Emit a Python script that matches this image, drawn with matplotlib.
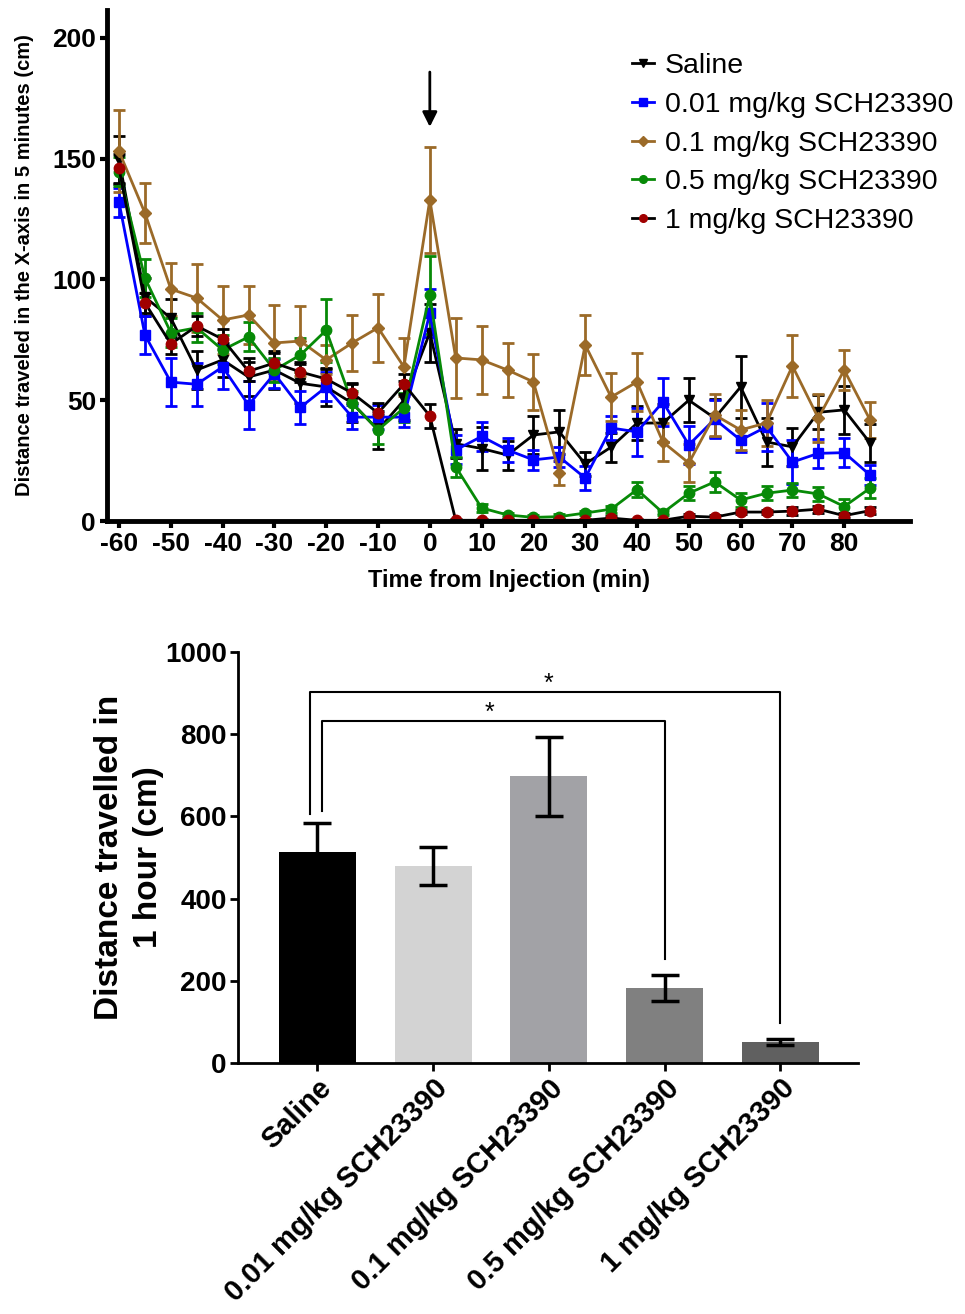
import numpy as np
import matplotlib
matplotlib.use("Agg")
import matplotlib.pyplot as plt
from matplotlib.lines import Line2D

plt.rcParams['font.family'] = ['Liberation Sans', 'DejaVu Sans']
plt.rcParams['axes.unicode_minus'] = False

# --- time course data (5-min bins) ---
time = list(range(-60, 90, 5))

saline = [149.5, 92.7, 84, 62.5, 66.7, 59.6, 62.5, 57, 55.5, 48.8, 37.7, 50, 78,
          32, 30, 27.3, 35.6, 36.9, 23.6, 30.6, 40.5, 40.6, 50, 42.6, 55.5, 32.7, 30.7, 45, 46, 32.3]
saline_err = [10, 8, 8, 8, 7, 8, 8, 8, 8, 8, 8, 8, 12,
              6, 9, 6, 8, 9, 5, 6, 7, 8, 9, 8, 13, 10, 8, 7, 10, 8]

d001 = [132, 77, 57.5, 56.6, 63.8, 48, 61, 47, 55.5, 43, 43, 43, 86,
        29.4, 35, 29.4, 25.3, 26.5, 17.8, 38.5, 36.9, 49.3, 31.5, 42.2, 33.5, 39, 24.4, 28, 28.3, 19]
d001_err = [6, 8, 10, 9, 9, 10, 6, 7, 6, 5, 5, 4, 10,
            6, 6, 5, 4, 4, 5, 5, 10, 10, 8, 8, 5, 10, 9, 6, 6, 4]

d01 = [153, 127.5, 96, 92.3, 83.2, 85.3, 73.7, 74.5, 66.7, 73.7, 80, 63.8, 133,
       67.5, 66.7, 62.5, 57.6, 19.9, 72.9, 51.3, 57.6, 32.7, 24, 43.9, 37.7, 40.6, 64.2, 42.6, 62.5, 41.8]
d01_err = [17, 12.5, 11, 14, 14, 12, 15.7, 14.5, 6, 11.6, 14, 12, 22,
           16.5, 14, 11, 11.5, 5, 12.4, 10, 12, 8, 8, 8.7, 8.3, 9.4, 13, 10, 8.3, 7.5]

d05 = [144.5, 100.6, 78, 80, 70.8, 76.2, 62.5, 68.7, 79, 48.8, 37.7, 46.8, 93.6,
       22.4, 5.4, 2.5, 1.5, 1.8, 3.3, 4.9, 13, 3.4, 11.5, 16.2, 8.7, 11.5, 12.8, 11.2, 6, 13.6]
d05_err = [6, 8, 6, 6, 6, 6, 5, 7, 13, 5, 6, 6, 16,
           4, 1.5, 1, 1, 1, 1, 1.5, 3, 1, 3, 4, 3, 3, 3, 3, 3, 4]

d1 = [146, 90.3, 73.3, 80.7, 75.3, 62, 65.4, 61.7, 58.8, 53, 44.7, 56.7, 43.5,
      0.3, 0.3, 0.3, 0.3, 0.3, 0.3, 1.2, 0.3, 0.3, 2, 1.6, 3.7, 3.7, 4.1, 4.9, 2.2, 4.3]
d1_err = [6, 4, 4, 4, 4, 4, 4, 4, 4, 4, 4, 4, 5,
          0.5, 0.5, 0.5, 0.5, 0.5, 0.5, 0.8, 0.5, 0.5, 1, 1, 1, 1, 1.5, 1.5, 1, 1.5]

# --- 1-hour totals ---
groups = ['Saline', '0.01 mg/kg SCH23390', '0.1 mg/kg SCH23390',
          '0.5 mg/kg SCH23390', '1 mg/kg SCH23390']
totals = [513, 479, 698, 182, 51]
totals_err = [72, 46, 96, 32, 7]
bar_colors = ['#000000', '#d3d3d3', '#a2a2a6', '#808080', '#606060']

fig = plt.figure(figsize=(9.65, 13.14), dpi=100)

# ================= top panel =================
ax1 = fig.add_axes([0.111, 0.6035, 0.832, 0.389])

series = [
    (saline, saline_err, 'Saline', 'black', 'black', 'v'),
    (d001, d001_err, '0.01 mg/kg SCH23390', '#0000ff', '#0000ff', 's'),
    (d01, d01_err, '0.1 mg/kg SCH23390', '#9b6a28', '#9b6a28', 'D'),
    (d05, d05_err, '0.5 mg/kg SCH23390', '#078a07', '#078a07', 'o'),
    (d1, d1_err, '1 mg/kg SCH23390', 'black', '#a00000', 'o'),
]
handles = []
for vals, err, lab, lc, mc, mk in series:
    ms = 6 if mk == 'D' else 7.5
    ax1.errorbar(time, vals, yerr=err, color=lc, ecolor=lc, elinewidth=2,
                 capsize=4.5, capthick=2, lw=2, marker=mk, ms=ms,
                 mfc=mc, mec=mc)
    handles.append(Line2D([], [], color=lc, lw=2, marker=mk, ms=5.5, mfc=mc, mec=mc, label=lab))

ax1.annotate('', xy=(0, 162), xytext=(0, 187),
             arrowprops=dict(arrowstyle='-|>', color='black', lw=2, mutation_scale=22))

ax1.set_xlim(-62.3, 92.7)
ax1.set_ylim(0, 211.6)
ax1.set_xticks(range(-60, 90, 10))
ax1.set_yticks([0, 50, 100, 150, 200])
for s in ['top', 'right']:
    ax1.spines[s].set_visible(False)
for s in ['left', 'bottom']:
    ax1.spines[s].set_linewidth(3.5)
ax1.tick_params(width=3, length=5, pad=3)
narrow = ['Liberation Sans Narrow', 'Liberation Sans', 'DejaVu Sans']
for t in ax1.get_xticklabels():
    t.set_fontfamily(narrow)
    t.set_fontweight('bold')
    t.set_fontsize(19)
for t in ax1.get_yticklabels():
    t.set_fontweight('bold')
    t.set_fontsize(19)
ax1.set_xlabel('Time from Injection (min)', fontsize=17, fontweight='bold',
               family=narrow, labelpad=9)
ax1.set_ylabel('Distance traveled in the X-axis in 5 minutes (cm)', fontsize=14.5,
               fontweight='bold', labelpad=13)

ax1.legend(handles=handles, loc='upper left', bbox_to_anchor=(0.640, 0.937), frameon=False,
           fontsize=20.5, handlelength=0.75, handletextpad=0.4, labelspacing=0.44,
           borderaxespad=0)

# ================= bottom panel =================
ax2 = fig.add_axes([0.2466, 0.191, 0.6424, 0.3128])
x = np.arange(len(groups))
ax2.bar(x, totals, width=0.665, color=bar_colors)
ax2.errorbar(x, totals, yerr=totals_err, fmt='none', ecolor='black',
             elinewidth=2.5, capsize=10, capthick=2.5)

ax2.plot([-0.065, -0.065, 4.0, 4.0], [606, 903, 903, 97], color='black', lw=1.5)
ax2.plot([0.036, 0.036, 3.0, 3.0], [614, 832, 832, 253], color='black', lw=1.5)
ax2.text(2.0, 893, '*', ha='center', va='bottom', fontsize=18)
ax2.text(1.49, 822, '*', ha='center', va='bottom', fontsize=18)

ax2.set_xlim(-0.687, 4.67)
ax2.set_ylim(0, 1000)
ax2.set_yticks([0, 200, 400, 600, 800, 1000])
ax2.set_xticks(x)
ax2.set_xticklabels(groups, rotation=45, ha='right', rotation_mode='anchor',
                    fontsize=21, fontweight='bold')
for t in ax2.get_yticklabels():
    t.set_fontweight('bold')
    t.set_fontsize(20)
for s in ['top', 'right']:
    ax2.spines[s].set_visible(False)
for s in ['left', 'bottom']:
    ax2.spines[s].set_linewidth(2)
ax2.tick_params(width=2, length=6, pad=2)
ax2.set_ylabel('Distance travelled in\n1 hour (cm)', fontsize=24, fontweight='bold',
               labelpad=1, linespacing=1.3)

fig.savefig('out.png', dpi=100)
